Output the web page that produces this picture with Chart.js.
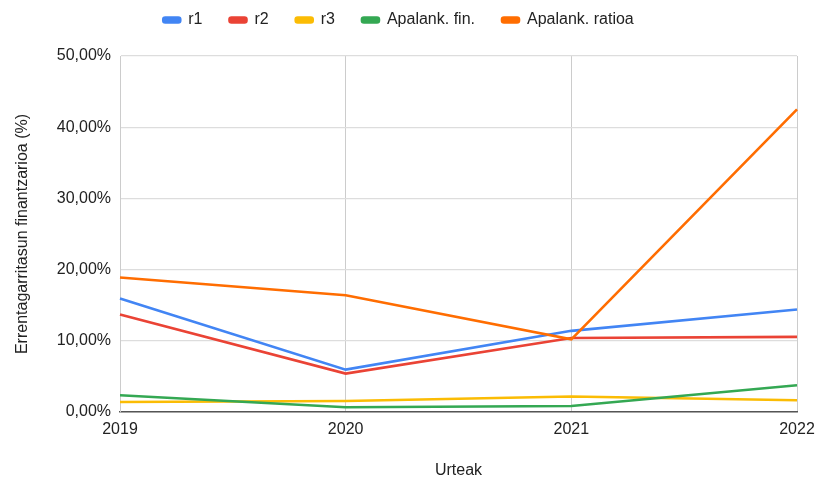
<!DOCTYPE html>
<html>
<head>
<meta charset="utf-8">
<script src="https://cdn.jsdelivr.net/npm/chart.js@4"></script>
<style>
  html, body { margin: 0; padding: 0; background: #fff; }
  #wrap { width: 817px; height: 477px; }
</style>
</head>
<body>
<div id="wrap"><canvas id="c" width="817" height="477"></canvas></div>
<script>
// Years on the horizontal axis
const years = ['2019', '2020', '2021', '2022'];

// Financial profitability series (percent)
const r1 = [15.95, 5.95, 11.4, 14.4];
const r2 = [13.7, 5.4, 10.4, 10.55];
const r3 = [1.4, 1.55, 2.17, 1.65];
const apalankFin = [2.35, 0.66, 0.85, 3.75];
const apalankRatioa = [18.9, 16.4, 10.2, 42.5];

// Vertical axis range and step
const yMin = 0;
const yMax = 50;
const yStep = 10;

const FONT = 'Liberation Sans, Arial, Helvetica, sans-serif';
const FS = 16;

function fmtPct(v) {
  return v.toFixed(2).replace('.', ',') + '%';
}

function series(label, data, color, order) {
  return {
    label: label,
    data: data,
    borderColor: color,
    backgroundColor: color,
    borderWidth: 2.6,
    pointRadius: 0,
    pointHoverRadius: 0,
    tension: 0,
    fill: false,
    order: order
  };
}

// Give the legend band a fixed height so the plot starts at a set offset
const legendBand = {
  id: 'legendBand',
  beforeLayout(chart) {
    const lg = chart.legend;
    if (!lg || lg._bandFixed) return;
    const fit = lg.fit.bind(lg);
    lg.fit = function () { fit(); this.height = 71; };
    lg._bandFixed = true;
  }
};

new Chart(document.getElementById('c'), {
  type: 'line',
  data: {
    labels: years,
    datasets: [
      series('r1', r1, '#4285F4', 5),
      series('r2', r2, '#EA4335', 4),
      series('r3', r3, '#FBBC04', 3),
      series('Apalank. fin.', apalankFin, '#34A853', 2),
      series('Apalank. ratioa', apalankRatioa, '#FF6D01', 1)
    ]
  },
  plugins: [legendBand],
  options: {
    responsive: false,
    animation: false,
    devicePixelRatio: 1,
    layout: { padding: { left: 0, right: 20, top: -15, bottom: 0 } },
    plugins: {
      tooltip: { enabled: false },
      legend: {
        position: 'top',
        align: 'center',
        labels: {
          boxWidth: 17,
          boxHeight: 5,
          useBorderRadius: true,
          borderRadius: 2,
          padding: 27,
          color: '#222',
          font: { family: FONT, size: FS },
          sort: function (a, b) { return a.datasetIndex - b.datasetIndex; }
        }
      }
    },
    scales: {
      x: {
        type: 'category',
        offset: false,
        grid: { color: '#cccccc', lineWidth: 1, drawTicks: false },
        border: { color: '#555555', width: 1.5 },
        ticks: {
          color: '#222',
          padding: 8,
          maxRotation: 0,
          font: { family: FONT, size: FS }
        },
        title: {
          display: true,
          text: 'Urteak',
          color: '#222',
          padding: { top: 14, bottom: -3 },
          font: { family: FONT, size: FS }
        },
        afterFit: function (scale) {
          scale.height = 65;
          scale.paddingLeft = 0;
          scale.paddingRight = 0;
        }
      },
      y: {
        min: yMin,
        max: yMax,
        grid: { color: '#dddddd', lineWidth: 1.2, drawTicks: false },
        border: { color: '#cccccc', width: 1 },
        ticks: {
          stepSize: yStep,
          color: '#222',
          padding: 9,
          font: { family: FONT, size: FS },
          callback: function (v) { return fmtPct(v); }
        },
        title: {
          display: true,
          text: 'Errentagarritasun finantzarioa (%)',
          color: '#222',
          padding: { top: 13, bottom: 0 },
          font: { family: FONT, size: FS }
        },
        afterFit: function (scale) { scale.width = 120; }
      }
    }
  }
});
</script>
</body>
</html>
